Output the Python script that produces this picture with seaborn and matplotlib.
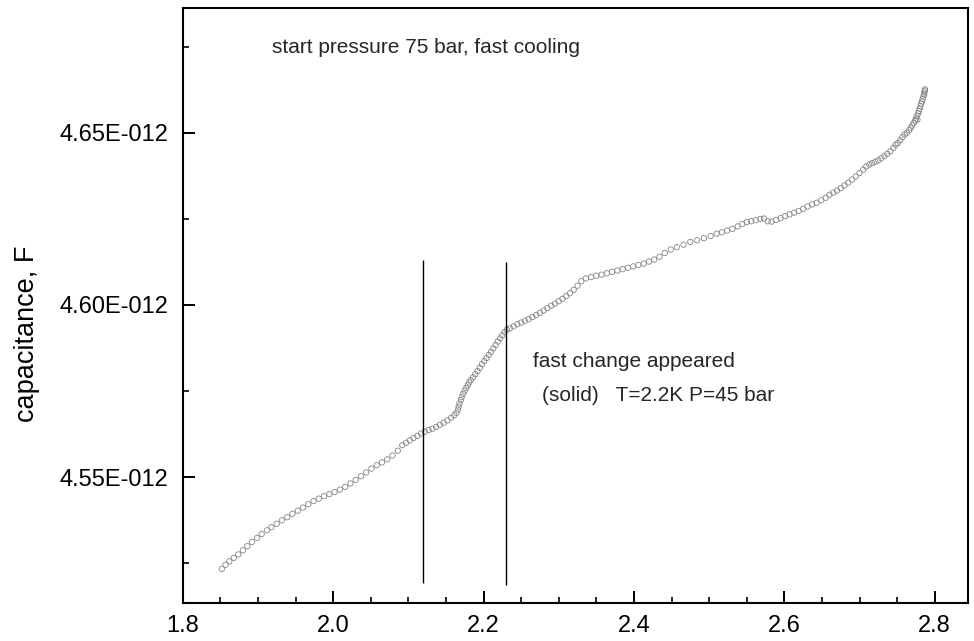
import numpy as np
import matplotlib
matplotlib.use("Agg")
import matplotlib.pyplot as plt
from matplotlib.ticker import MultipleLocator, FuncFormatter
import seaborn as sns

# ---- data (temperature in K, capacitance in pF) ----
temperature = [
    1.852, 1.857, 1.862, 1.868, 1.874, 1.880, 1.886, 1.892, 1.899, 1.905,
    1.912, 1.918, 1.925, 1.932, 1.939, 1.946, 1.953, 1.960, 1.967, 1.974,
    1.981, 1.988, 1.995, 2.002, 2.009, 2.016, 2.023, 2.030, 2.037, 2.044,
    2.051, 2.058, 2.065, 2.072, 2.079, 2.086,
    2.092, 2.097, 2.102, 2.107, 2.112, 2.117, 2.122, 2.127, 2.132, 2.137,
    2.142, 2.147, 2.152, 2.157, 2.161, 2.164,
    2.166, 2.167, 2.168, 2.170, 2.171, 2.173, 2.175, 2.177, 2.179, 2.181,
    2.183, 2.186, 2.189, 2.192, 2.195, 2.198, 2.201, 2.204, 2.207, 2.210,
    2.213, 2.216, 2.219, 2.222, 2.225, 2.228, 2.231,
    2.235, 2.240, 2.245, 2.250, 2.255, 2.260, 2.265, 2.270, 2.275, 2.280,
    2.285, 2.290, 2.295, 2.300, 2.305, 2.310, 2.315, 2.320, 2.325, 2.330,
    2.336, 2.343, 2.350, 2.357, 2.364, 2.371, 2.378, 2.385, 2.392, 2.399,
    2.406, 2.413,
    2.420, 2.427, 2.434, 2.441, 2.449, 2.457, 2.466, 2.475, 2.484, 2.493,
    2.502, 2.510, 2.517, 2.524, 2.531, 2.538, 2.544, 2.550, 2.556, 2.562,
    2.568, 2.573, 2.578, 2.583, 2.589, 2.595, 2.601, 2.607, 2.613, 2.619,
    2.625, 2.631, 2.637, 2.643, 2.649, 2.655, 2.660, 2.665, 2.670, 2.675,
    2.680, 2.685, 2.690, 2.695, 2.700, 2.705, 2.709, 2.713, 2.717, 2.721,
    2.725, 2.729, 2.733, 2.737, 2.741, 2.745, 2.748, 2.751, 2.754, 2.757,
    2.760, 2.763, 2.766, 2.768, 2.770, 2.772, 2.774, 2.775, 2.776, 2.777,
    2.778, 2.779, 2.780, 2.781, 2.782, 2.783, 2.784, 2.785, 2.786, 2.786,
    2.787, 2.787,
]
capacitance_pF = [
    4.5234, 4.5246, 4.5256, 4.5266, 4.5276, 4.5288, 4.5300, 4.5312, 4.5324, 4.5335,
    4.5346, 4.5355, 4.5365, 4.5375, 4.5384, 4.5394, 4.5403, 4.5412, 4.5422, 4.5431,
    4.5438, 4.5445, 4.5451, 4.5457, 4.5464, 4.5472, 4.5482, 4.5492, 4.5503, 4.5514,
    4.5525, 4.5535, 4.5543, 4.5552, 4.5563, 4.5577,
    4.5593, 4.5600, 4.5607, 4.5614, 4.5620, 4.5627, 4.5632, 4.5637, 4.5641, 4.5646,
    4.5652, 4.5658, 4.5665, 4.5673, 4.5680, 4.5687,
    4.5696, 4.5705, 4.5714, 4.5724, 4.5733, 4.5742, 4.5751, 4.5759, 4.5767, 4.5775,
    4.5782, 4.5790, 4.5799, 4.5808, 4.5818, 4.5828, 4.5837, 4.5846, 4.5855, 4.5864,
    4.5874, 4.5884, 4.5894, 4.5903, 4.5912, 4.5921, 4.5928,
    4.5932, 4.5938, 4.5944, 4.5949, 4.5954, 4.5959, 4.5965, 4.5971, 4.5977, 4.5984,
    4.5991, 4.5998, 4.6004, 4.6011, 4.6018, 4.6026, 4.6034, 4.6044, 4.6056, 4.6069,
    4.6077, 4.6081, 4.6085, 4.6088, 4.6092, 4.6096, 4.6100, 4.6104, 4.6108, 4.6112,
    4.6116, 4.6120,
    4.6126, 4.6132, 4.6140, 4.6151, 4.6161, 4.6168, 4.6175, 4.6183, 4.6188, 4.6194,
    4.6200, 4.6207, 4.6211, 4.6216, 4.6221, 4.6228, 4.6235, 4.6241, 4.6243, 4.6246,
    4.6250, 4.6251, 4.6243, 4.6242, 4.6247, 4.6252, 4.6258, 4.6263, 4.6268, 4.6273,
    4.6279, 4.6286, 4.6292, 4.6297, 4.6304, 4.6311, 4.6320, 4.6326, 4.6332, 4.6339,
    4.6347, 4.6355, 4.6364, 4.6373, 4.6383, 4.6393, 4.6402, 4.6408, 4.6412, 4.6416,
    4.6420, 4.6426, 4.6432, 4.6439, 4.6446, 4.6456, 4.6465, 4.6470, 4.6478, 4.6487,
    4.6495, 4.6500, 4.6507, 4.6514, 4.6521, 4.6528, 4.6535, 4.6541, 4.6548, 4.6538,
    4.6556, 4.6563, 4.6570, 4.6577, 4.6584, 4.6591, 4.6598, 4.6605, 4.6611, 4.6617,
    4.6622, 4.6626,
]
marker_lines_x = [2.12, 2.23]
marker_lines_ymin_pF = [4.5193, 4.5187]
marker_lines_ymax_pF = [4.6131, 4.6125]

title_text = "start pressure 75 bar, fast cooling"
note_line1 = "fast change appeared"
note_line2 = "(solid)   T=2.2K P=45 bar"
y_label = "capacitance, F"
x_ticks = [1.8, 2.0, 2.2, 2.4, 2.6, 2.8]
y_ticks_pF = [4.55, 4.60, 4.65]

# ---- styling ----
sns.set_style("white")
plt.rcParams["font.family"] = ["Liberation Sans", "DejaVu Sans"]

fig = plt.figure(figsize=(9.74, 6.41), dpi=100)
ax = fig.add_axes([0.18758, 0.05928, 0.80575, 0.92824])

x = np.array(temperature)
y = np.array(capacitance_pF) * 1e-12

sns.scatterplot(x=x, y=y, ax=ax, marker="o", s=15,
                facecolors="none", edgecolor="#858585", linewidth=0.6,
                legend=False)

ax.vlines(marker_lines_x, np.array(marker_lines_ymin_pF) * 1e-12,
          np.array(marker_lines_ymax_pF) * 1e-12, colors="black", linewidth=1.0)

ax.set_xlim(1.8, 2.8436)
ax.set_ylim(4.5135e-12, 4.6862e-12)

ax.set_xticks(x_ticks)
ax.xaxis.set_minor_locator(MultipleLocator(0.05))
ax.set_yticks(np.array(y_ticks_pF) * 1e-12)
ax.yaxis.set_minor_locator(MultipleLocator(0.025e-12))


def fmt_y(v, pos):
    m, e = f"{v:.2E}".split("E")
    return f"{m}E{int(e):04d}"


ax.xaxis.set_major_formatter(FuncFormatter(lambda v, p: f"{v:.1f}"))
ax.yaxis.set_major_formatter(FuncFormatter(fmt_y))

for sp in ax.spines.values():
    sp.set_linewidth(1.5)
    sp.set_color("black")

ax.tick_params(axis="both", which="major", direction="in", length=8.5, width=1.4,
               labelsize=17, colors="black", bottom=True, left=True,
               top=False, right=False)
ax.tick_params(axis="both", which="minor", direction="in", length=4.5, width=1.4,
               bottom=True, left=True, top=False, right=False)
ax.tick_params(axis="y", which="major", pad=10.5)
ax.tick_params(axis="x", which="major", pad=8.5)

ax.set_xlabel("")
ax.set_ylabel(y_label, fontsize=19.5, color="black")
ax.yaxis.label.set_va("center")
ax.yaxis.set_label_coords(-0.1984, 0.452)

ax.text(1.9184, 4.6731e-12, title_text, fontsize=15, ha="left", va="baseline")
ax.text(2.2654, 4.5821e-12, note_line1, fontsize=15, ha="left", va="baseline")
ax.text(2.2774, 4.5721e-12, note_line2, fontsize=15, ha="left", va="baseline")

fig.savefig("out.png", dpi=100, facecolor="white")
